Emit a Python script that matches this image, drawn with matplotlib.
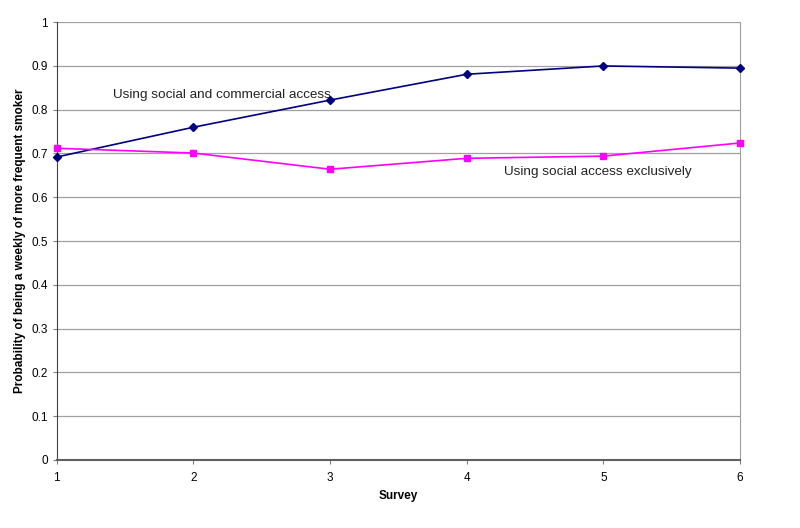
import matplotlib
matplotlib.use("Agg")
import matplotlib.pyplot as plt

surveys = [1, 2, 3, 4, 5, 6]
social_commercial = [0.692, 0.760, 0.822, 0.881, 0.900, 0.895]
social_exclusive = [0.712, 0.701, 0.664, 0.689, 0.694, 0.724]
yticks = [0, 0.1, 0.2, 0.3, 0.4, 0.5, 0.6, 0.7, 0.8, 0.9, 1]
ytick_labels = ["0", "0.1", "0.2", "0.3", "0.4", "0.5", "0.6", "0.7", "0.8", "0.9", "1"]

plt.rcParams['font.family'] = ['Liberation Sans', 'DejaVu Sans']

fig = plt.figure(figsize=(8, 5.28), dpi=100)
ax = fig.add_axes([0.071, 0.129, 0.854, 0.829])

ax.plot(surveys, social_commercial, color='#000080', marker='D', markersize=4, linewidth=1.2, zorder=3, clip_on=False)
ax.plot(surveys, social_exclusive, color='#FF00FF', marker='s', markersize=5, linewidth=1.2, zorder=3, clip_on=False)

ax.set_xlim(1, 6)
ax.set_ylim(0, 1)
ax.set_xticks(surveys)
ax.set_yticks(yticks)
ax.set_yticklabels(ytick_labels)
ax.tick_params(axis='both', labelsize=8.5, length=3, color='#808080')
ax.tick_params(axis='x', pad=6)
ax.yaxis.grid(True, color='#A0A0A0', linewidth=0.9)
ax.set_axisbelow(True)

ax.spines['top'].set_visible(False)
ax.spines['right'].set_color('#A0A0A0')
ax.spines['left'].set_color('#404040')
ax.spines['bottom'].set_color('#606060')
ax.spines['bottom'].set_linewidth(1.5)

ax.set_xlabel('Survey', fontsize=8.5, fontweight='bold', labelpad=4)
ax.set_ylabel('Probability of being a weekly of more frequent smoker', fontsize=8.5, fontweight='bold', labelpad=4)

ax.text(1.41, 0.833, 'Using social and commercial access', fontsize=9.7, color='#222222', va='center', ha='left')
ax.text(4.27, 0.657, 'Using social access exclusively', fontsize=9.7, color='#222222', va='center', ha='left')

fig.savefig('out.png', dpi=100)
